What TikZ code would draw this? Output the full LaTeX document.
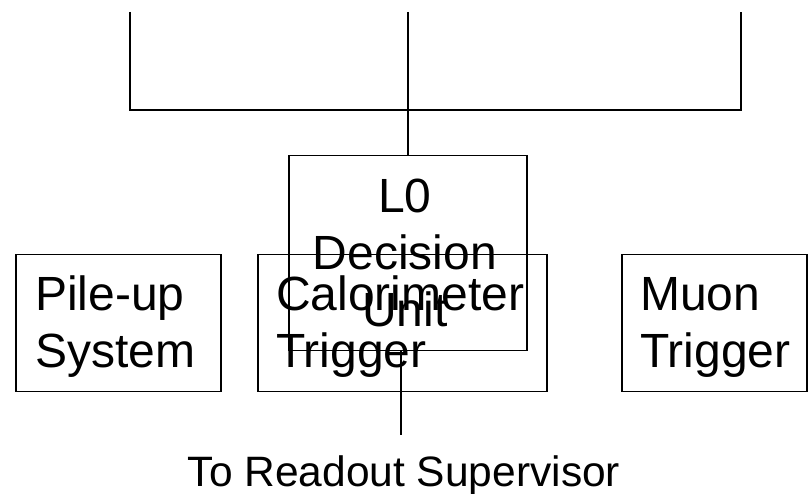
\documentclass[tikz,border=0pt]{standalone}
\usepackage{fontspec}
\setmainfont{Liberation Sans}
\begin{document}
\begin{tikzpicture}[x=1pt,y=-1pt,
  box/.style={draw, line width=1.5pt, inner sep=0pt, anchor=north west},
  txt/.style={inner sep=0pt, font=\fontsize{48}{57}\selectfont},
  wire/.style={line width=1.8pt}]
\useasboundingbox (0,0) rectangle (809,494);
% boxes
\node[box, minimum width=205pt, minimum height=137pt] (pile) at (15,254) {};
\node[box, minimum width=289pt, minimum height=137pt] (cal) at (257,254) {};
\node[box, minimum width=185pt, minimum height=137pt] (muon) at (621,254) {};
\node[box, minimum width=238pt, minimum height=195pt] (l0) at (288,155) {};
% labels
\node[txt, align=left, anchor=west] (pilet) at ([xshift=20pt,yshift=-3.8pt]pile.west) {Pile-up\\System};
\node[txt, align=left, anchor=west] (calt) at ([xshift=19pt,yshift=-3.8pt]cal.west) {Calorimeter\\Trigger};
\node[txt, align=left, anchor=west] (muont) at ([xshift=19pt,yshift=-3.8pt]muon.west) {Muon\\Trigger};
\node[txt, align=center] (l0t) at ([xshift=-3pt]l0.center) {L0\\Decision\\Unit};
% connectors
\coordinate (ta) at (130,12);
\coordinate (tb) at (408,12);
\coordinate (tc) at (741,12);
\coordinate (ja) at (130,110);
\coordinate (jc) at (741,110);
\draw[wire] (ta) -- (ja) -- (jc) -- (tc);
\draw[wire] (tb) -- (tb |- l0.north);
\coordinate (rs) at (401,435);
\draw[wire] (rs |- l0.south) -- (rs);
\node[font=\fontsize{42.5}{50}\selectfont, anchor=base, inner sep=0pt] (ro) at (404,486) {To Readout Supervisor};
\end{tikzpicture}
\end{document}
